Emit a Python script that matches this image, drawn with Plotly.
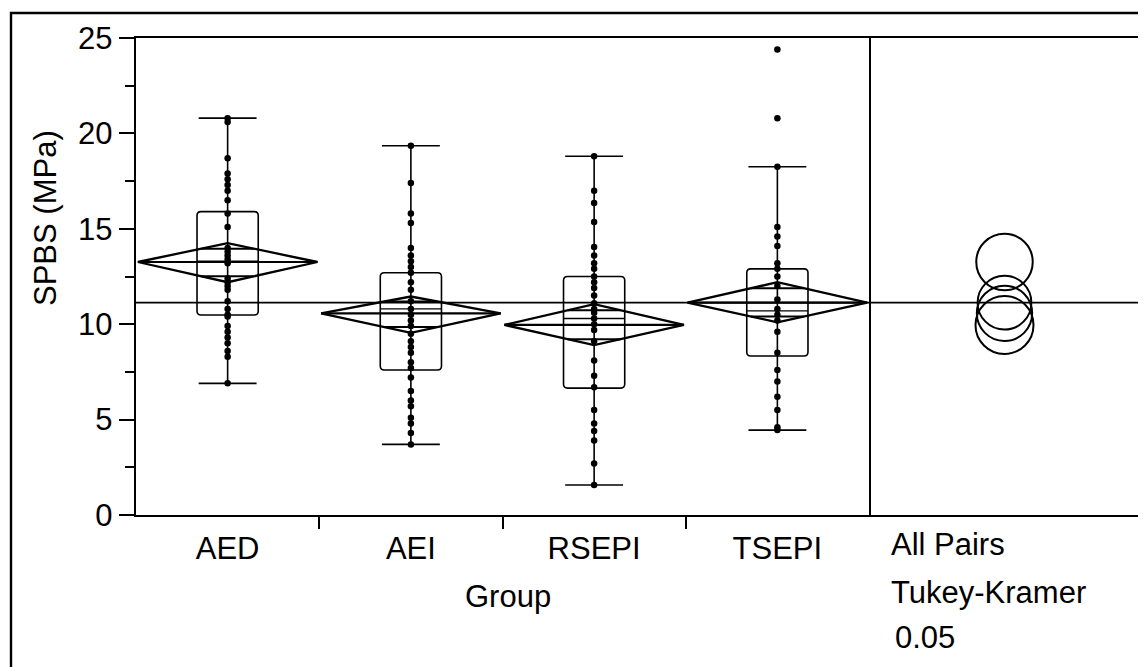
import numpy as np
import plotly.graph_objects as go

# ---------------- data ----------------
categories = ["AED", "AEI", "RSEPI", "TSEPI"]

aed_points = [20.8, 20.6, 18.7, 17.9, 17.6, 17.3, 17.0, 16.5, 15.8, 15.1, 14.0, 13.8,
              13.6, 13.4, 13.2, 12.4, 12.2, 12.0, 11.8, 11.2, 10.8, 10.5, 10.4, 9.9,
              9.6, 9.3, 9.0, 8.6, 8.3, 6.9]
aei_points = [19.35, 17.4, 15.8, 15.3, 14.0, 13.6, 13.3, 13.0, 12.7, 12.2, 11.8, 11.2,
              10.8, 10.5, 10.2, 9.9, 9.5, 9.1, 8.8, 8.5, 8.0, 7.7, 7.2, 6.5, 6.0, 5.7,
              5.1, 4.8, 4.3, 3.7]
rsepi_points = [18.8, 17.0, 16.35, 15.35, 14.05, 13.6, 13.2, 12.9, 12.5, 12.2, 11.9,
                11.5, 11.1, 10.8, 10.6, 10.3, 10.0, 9.7, 9.1, 8.1, 7.3, 6.7, 5.5, 4.8,
                4.4, 3.9, 2.7, 1.57]
tsepi_points = [24.4, 20.8, 18.25, 15.1, 14.6, 14.1, 13.2, 12.9, 12.5, 12.0, 11.3, 10.8,
                10.5, 10.2, 9.6, 8.5, 7.6, 7.0, 6.2, 5.5, 4.6, 4.45]
group_points = [aed_points, aei_points, rsepi_points, tsepi_points]

means = [13.26, 10.57, 9.96, 11.13]
ci_upper = [14.25, 11.45, 11.05, 12.2]
ci_lower = [12.2, 9.55, 8.9, 10.1]
q1 = [10.48, 7.6, 6.65, 8.33]
medians = [13.3, 10.8, 10.3, 10.7]
q3 = [15.9, 12.7, 12.5, 12.9]
whisker_low = [6.9, 3.7, 1.57, 4.45]
whisker_high = [20.8, 19.35, 18.8, 18.25]
grand_mean = 11.13
circle_radius = [1.48, 1.45, 1.52, 1.41]

y_ticks = [0, 5, 10, 15, 20, 25]

# ---------------- layout constants ----------------
OFF = 8                      # default page (body) margin of the html file
W, H = 1146 - OFF, 667 - OFF
L, T = 136 - OFF, 38 - OFF
B = H - (515 - OFF)
R = W - (1140 - OFF)
PW, PH = W - L - R, H - T - B
split = (869 - 136) / PW
YMAX = 25
FONT = "Liberation Sans, Arial, Helvetica, sans-serif"
FS = 31
LC = "black"

box_hw = 0.167
cap_hw = 0.158
dia_hw = 0.49

px_per_unit_y = PH / YMAX
px_per_unit_x = PW * split / len(categories)

fig = go.Figure()
shapes = []

def rounded_box(x0, x1, y0, y1, r_px=4):
    rx = r_px / px_per_unit_x
    ry = r_px / px_per_unit_y
    return (f"M {x0 + rx},{y0} L {x1 - rx},{y0} Q {x1},{y0} {x1},{y0 + ry} "
            f"L {x1},{y1 - ry} Q {x1},{y1} {x1 - rx},{y1} "
            f"L {x0 + rx},{y1} Q {x0},{y1} {x0},{y1 - ry} "
            f"L {x0},{y0 + ry} Q {x0},{y0} {x0 + rx},{y0} Z")

for i, cat in enumerate(categories):
    c = i + 0.5
    # whisker
    fig.add_trace(go.Scatter(x=[c, c], y=[whisker_low[i], whisker_high[i]], mode="lines",
                             line=dict(color=LC, width=1.6), showlegend=False, hoverinfo="skip"))
    for wv in (whisker_low[i], whisker_high[i]):
        fig.add_trace(go.Scatter(x=[c - cap_hw, c + cap_hw], y=[wv, wv], mode="lines",
                                 line=dict(color=LC, width=1.6), showlegend=False, hoverinfo="skip"))
    # box (rounded corners)
    shapes.append(dict(type="path", xref="x", yref="y",
                       path=rounded_box(c - box_hw, c + box_hw, q1[i], q3[i]),
                       line=dict(color=LC, width=1.6)))
    shapes.append(dict(type="line", xref="x", yref="y", x0=c - box_hw, x1=c + box_hw,
                       y0=medians[i], y1=medians[i], line=dict(color=LC, width=1.3)))
    # diamond
    m, hi, lo = means[i], ci_upper[i], ci_lower[i]
    fig.add_trace(go.Scatter(x=[c - dia_hw, c, c + dia_hw, c, c - dia_hw],
                             y=[m, hi, m, lo, m], mode="lines",
                             line=dict(color=LC, width=2.3), showlegend=False, hoverinfo="skip"))
    fig.add_trace(go.Scatter(x=[c - dia_hw, c + dia_hw], y=[m, m], mode="lines",
                             line=dict(color=LC, width=2.2), showlegend=False, hoverinfo="skip"))
    # overlap marks
    k = 1 / np.sqrt(2)
    ow = dia_hw * (1 - k)
    for ov in (m + (hi - m) * k, m - (m - lo) * k):
        fig.add_trace(go.Scatter(x=[c - ow, c + ow], y=[ov, ov], mode="lines",
                                 line=dict(color=LC, width=2), showlegend=False, hoverinfo="skip"))
    # points
    pts = group_points[i]
    fig.add_trace(go.Scatter(x=[c] * len(pts), y=pts, mode="markers",
                             marker=dict(color=LC, size=6.5), showlegend=False, hoverinfo="skip"))

# invisible trace for right panel axis
fig.add_trace(go.Scatter(x=[0.5], y=[grand_mean], xaxis="x2", yaxis="y", mode="markers",
                         marker=dict(size=1, color="rgba(0,0,0,0)"), showlegend=False,
                         hoverinfo="skip"))

# grand mean line across both panels
shapes.append(dict(type="line", xref="paper", yref="y", x0=0, x1=1,
                   y0=grand_mean, y1=grand_mean, line=dict(color=LC, width=1.8)))

# comparison circles
panel_w = PW * (1 - split)
for i in range(len(categories)):
    rx = circle_radius[i] * px_per_unit_y / panel_w
    shapes.append(dict(type="circle", xref="x2", yref="y",
                       x0=0.5 - rx, x1=0.5 + rx,
                       y0=means[i] - circle_radius[i], y1=means[i] + circle_radius[i],
                       line=dict(color=LC, width=2)))

# helpers: page pixel -> paper coordinates
def px_x(p):
    return (p - OFF - L) / PW

def px_y(p):
    return (H - B - (p - OFF)) / PH

# outer frame
shapes.append(dict(type="rect", xref="paper", yref="paper",
                   x0=px_x(11), x1=px_x(1142), y0=px_y(720), y1=px_y(13),
                   line=dict(color=LC, width=2.4)))

def ann(text, x, y, xanchor="center", angle=0):
    return dict(text=text, x=px_x(x), y=px_y(y), xref="paper", yref="paper",
                xanchor=xanchor, yanchor="middle", textangle=angle, showarrow=False,
                font=dict(size=FS, family=FONT, color=LC))

annotations = [
    ann("SPBS (MPa)", 45, 218, angle=-90),
    ann("Group", 508, 596),
    ann("All Pairs", 889, 544, xanchor="left"),
    ann("Tukey-Kramer", 889, 592, xanchor="left"),
    ann("0.05", 893, 637, xanchor="left"),
]

fig.update_layout(
    width=W, height=H,
    margin=dict(l=L, r=R, t=T, b=B),
    paper_bgcolor="white", plot_bgcolor="white",
    showlegend=False,
    shapes=shapes,
    annotations=annotations,
    font=dict(family=FONT, size=FS, color=LC),
    xaxis=dict(domain=[0, split], range=[0, len(categories)],
               tickvals=[i + 0.5 for i in range(len(categories))], ticktext=categories,
               ticks="", showgrid=False, zeroline=False,
               showline=True, linecolor=LC, linewidth=2.4, mirror=True,
               ticklabelstandoff=5,
               minor=dict(tickvals=list(range(1, len(categories))), ticks="outside",
                          ticklen=12, tickcolor=LC, tickwidth=2, showgrid=False),
               tickfont=dict(size=FS, family=FONT, color=LC)),
    xaxis2=dict(domain=[split, 1], range=[0, 1], anchor="y", showticklabels=False,
                ticks="", showgrid=False, zeroline=False,
                showline=True, linecolor=LC, linewidth=2.4, mirror=True),
    yaxis=dict(range=[0, YMAX], tickvals=y_ticks, ticks="outside", ticklen=15,
               tickwidth=2, tickcolor=LC, showgrid=False, zeroline=False,
               showline=True, linecolor=LC, linewidth=2.4, mirror=True,
               ticklabelstandoff=0,
               minor=dict(dtick=2.5, tick0=0, ticks="outside", ticklen=9,
                          tickcolor=LC, tickwidth=1.6, showgrid=False),
               tickfont=dict(size=FS, family=FONT, color=LC)),
)

fig.write_html("out.html")
